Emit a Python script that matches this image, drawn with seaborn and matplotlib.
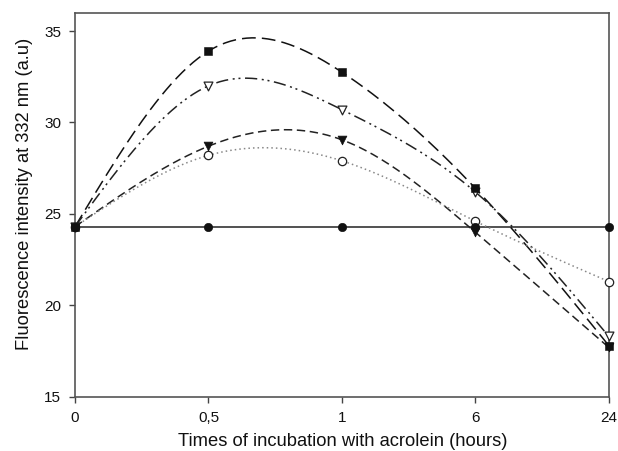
import numpy as np
import pandas as pd
import matplotlib
matplotlib.use("Agg")
import matplotlib.pyplot as plt
import seaborn as sns

# ---- data ----
time_labels = ["0", "0,5", "1", "6", "24"]
control = [24.3, 24.3, 24.3, 24.3, 24.3]          # filled circle, solid
series_square = [24.3, 33.9, 32.75, 26.4, 17.8]    # filled square, long dash
series_open_tri = [24.3, 32.0, 30.7, 26.2, 18.3]   # open triangle, dash-dot-dot
series_filled_tri = [24.3, 28.7, 29.05, 24.0, 17.7]  # filled triangle, dash
series_open_circle = [24.3, 28.2, 27.9, 24.6, 21.3]  # open circle, dotted


def natural_spline(y, n=200):
    y = np.asarray(y, float)
    k = len(y)
    A = np.zeros((k, k))
    b = np.zeros(k)
    A[0, 0] = A[-1, -1] = 1
    for i in range(1, k - 1):
        A[i, i - 1], A[i, i], A[i, i + 1] = 1, 4, 1
        b[i] = 6 * (y[i + 1] - 2 * y[i] + y[i - 1])
    M = np.linalg.solve(A, b)
    xs = np.linspace(0, k - 1, n)
    ys = np.empty_like(xs)
    for j, xv in enumerate(xs):
        i = min(int(np.floor(xv)), k - 2)
        t = xv - i
        ys[j] = (M[i] * (1 - t) ** 3 / 6 + M[i + 1] * t ** 3 / 6
                 + (y[i] - M[i] / 6) * (1 - t) + (y[i + 1] - M[i + 1] / 6) * t)
    return xs, ys


sns.set_style("white")
plt.rcParams["font.family"] = ["Liberation Sans", "DejaVu Sans"]

fig = plt.figure(figsize=(6.18, 4.51), dpi=100)
ax = fig.add_axes([0.1214, 0.1204, 0.8636, 0.8514])

pos = np.arange(len(time_labels))

styles = [
    (series_square, dict(color="#111111", dashes=(9, 4)), dict(marker="s", s=26, color="#111111", edgecolor="#111111")),
    (series_open_tri, dict(color="#222222", dashes=(8, 3, 1.3, 2.5, 1.3, 3)), dict(marker="v", s=40, color="white", edgecolor="#222222", linewidth=0.9)),
    (series_filled_tri, dict(color="#222222", dashes=(5.5, 3)), dict(marker="v", s=40, color="#111111", edgecolor="#111111")),
    (series_open_circle, dict(color="#888888", dashes=(1, 2)), dict(marker="o", s=36, color="white", edgecolor="#222222", linewidth=0.9)),
]

# control line (straight)
sns.lineplot(x=pos, y=control, ax=ax, color="#222222", linewidth=1.1, zorder=2)

for vals, lkw, mkw in styles:
    xs, ys = natural_spline(vals)
    dashes = lkw.pop("dashes")
    sns.lineplot(x=xs, y=ys, ax=ax, linewidth=1.1, zorder=2, **lkw)
    ax.lines[-1].set_dashes(dashes)

for vals, lkw, mkw in styles[::-1]:
    sns.scatterplot(x=pos, y=vals, ax=ax, zorder=4, clip_on=False, **mkw)

sns.scatterplot(x=pos, y=control, ax=ax, marker="o", s=36, color="#111111",
                edgecolor="#111111", zorder=5, clip_on=False)

ax.set_xlim(0, 4)
ax.set_ylim(15, 36)
ax.set_xticks(pos)
ax.set_xticklabels(time_labels)
ax.set_yticks([15, 20, 25, 30, 35])
ax.tick_params(direction="out", length=4, width=1, color="#444444",
               labelsize=11, labelcolor="#111111", bottom=True, left=True, pad=6)
for sp in ax.spines.values():
    sp.set_color("#555555")
    sp.set_linewidth(1.2)

ax.set_xlabel("Times of incubation with acrolein (hours)", fontsize=13.2, color="#111111")
ax.set_ylabel("Fluorescence intensity at 332 nm (a.u)", fontsize=13.2, color="#111111")
ax.xaxis.set_label_coords(0.502, -0.094)
ax.yaxis.set_label_coords(-0.078, 0.529)

fig.savefig("out.png", dpi=100)
